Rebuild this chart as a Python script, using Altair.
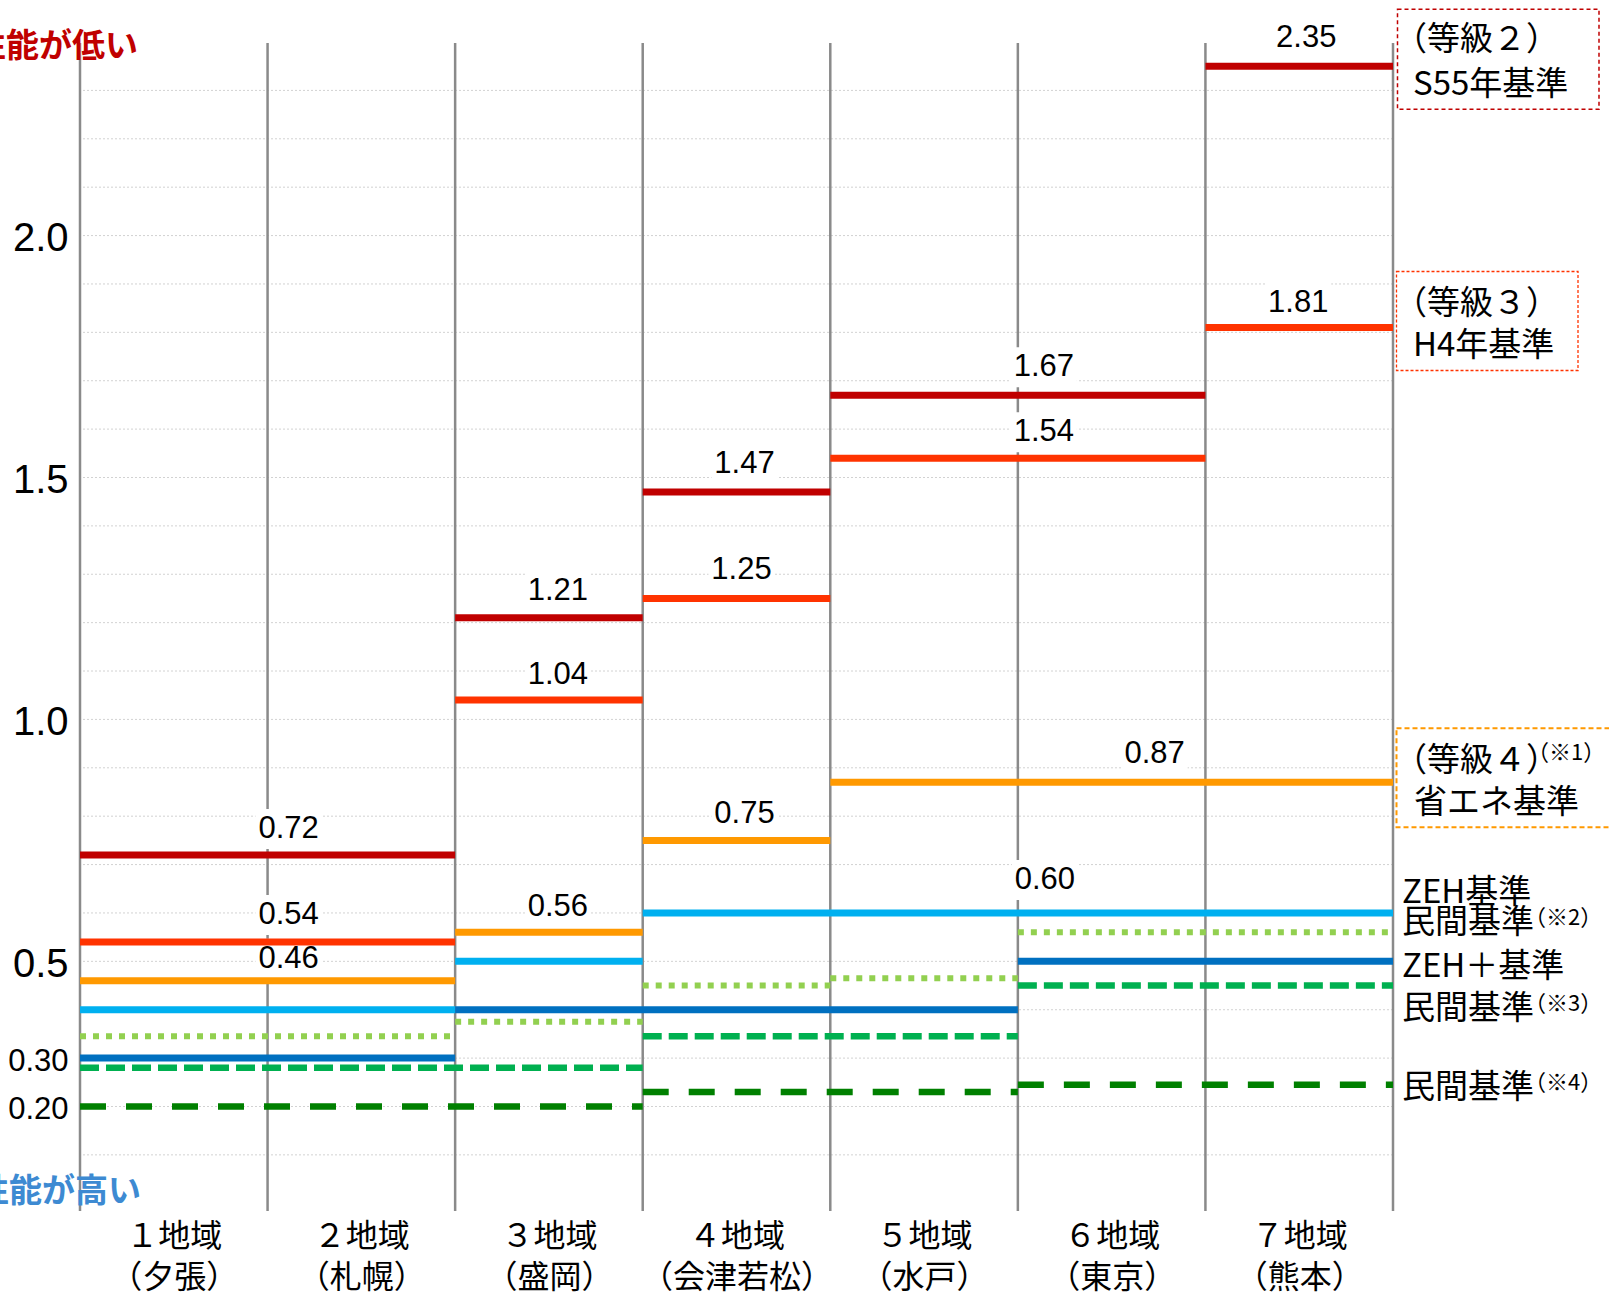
import altair as alt
import pandas as pd

# ---------------- data ----------------
regions = ["１地域", "２地域", "３地域", "４地域", "５地域", "６地域", "７地域"]
cities = ["（夕張）", "（札幌）", "（盛岡）", "（会津若松）", "（水戸）", "（東京）", "（熊本）"]

s55 = [0.72, 0.72, 1.21, 1.47, 1.67, 1.67, 2.35]        # (等級2) S55年基準
h4 = [0.54, 0.54, 1.04, 1.25, 1.54, 1.54, 1.81]         # (等級3) H4年基準
shoene = [0.46, 0.46, 0.56, 0.75, 0.87, 0.87, 0.87]     # (等級4) 省エネ基準
zeh = [0.40, 0.40, 0.50, 0.60, 0.60, 0.60, 0.60]        # ZEH基準
heat_g1 = [0.345, 0.345, 0.375, 0.45, 0.465, 0.56, 0.56]  # 民間基準(※2)
zeh_plus = [0.30, 0.30, 0.40, 0.40, 0.40, 0.50, 0.50]   # ZEH＋基準
heat_g2 = [0.28, 0.28, 0.28, 0.345, 0.345, 0.45, 0.45]  # 民間基準(※3)
heat_g3 = [0.20, 0.20, 0.20, 0.23, 0.23, 0.245, 0.245]  # 民間基準(※4)

y_ticks = [0.2, 0.3, 0.5, 1.0, 1.5, 2.0]
grid_values = [0.1, 0.2, 0.3, 0.4, 0.5, 0.6, 0.7, 0.8, 0.9, 1.0, 1.1, 1.2,
               1.3, 1.4, 1.5, 1.6, 1.7, 1.8, 1.9, 2.0, 2.1, 2.2, 2.3]

# ---------------- layout / style ----------------
W, H = 1313, 1168
PAD = {"left": 80, "top": 43, "right": 216, "bottom": 81}
Y_DOMAIN = [-0.016, 2.398]
NREG = len(regions)
PX_REGION = W / NREG
JP = "Noto Sans CJK JP"
NUM = "Liberation Sans"

# label placement per segment: (dx nudge px, dy px) or None
series = [
    dict(key="s55", vals=s55, color="#C00000", width=7, dash=None,
         labels=[(21, -26), (9, -27), (8, -28), (26, -28), (7, -28)]),
    dict(key="h4", vals=h4, color="#FF3300", width=7, dash=None,
         labels=[(21, -27), (9, -25), (5, -28), (26, -26), (-1, -25)]),
    dict(key="se", vals=shoene, color="#FF9900", width=7, dash=None,
         labels=[(21, -22), (9, -25), (8, -26), (43, -28)]),
    dict(key="zeh", vals=zeh, color="#00B0F0", width=7, dash=None,
         labels=[None, None, (27, -33)]),
    dict(key="g1", vals=heat_g1, color="#92D050", width=6, dash=[6, 7], labels=None),
    dict(key="zehp", vals=zeh_plus, color="#0070C0", width=7, dash=None, labels=None),
    dict(key="g2", vals=heat_g2, color="#00B050", width=6.5, dash=[19, 7], labels=None),
    dict(key="g3", vals=heat_g3, color="#008000", width=6.5, dash=[26, 20], labels=None),
]
last_val = {s["key"]: s["vals"][-1] for s in series}

boxes = [
    dict(key="s55", color="#C00000", dash=[4, 3], sw=1.5, left=4.5, right=206, top=-57, bottom=43,
         lines=[("（等級２）", 1, -26), ("S55年基準", 20, 19)], sup=None),
    dict(key="h4", color="#FF3300", dash=[3, 2], sw=1.3, left=3.5, right=185, top=-56, bottom=43,
         lines=[("（等級３）", 1, -24), ("H4年基準", 20, 18)], sup=None),
    dict(key="se", color="#FF9900", dash=[5, 3], sw=2, left=3.5, right=240, top=-54, bottom=45,
         lines=[("（等級４）", 1, -21), ("省エネ基準", 21, 21)], sup=("（※1）", 134, -29)),
]

side_labels = [
    ("zeh", "ZEH基準", -20, None),
    ("g1", "民間基準", -9, "（※2）"),
    ("zehp", "ZEH＋基準", 6, None),
    ("g2", "民間基準", 23, "（※3）"),
    ("g3", "民間基準", 3, "（※4）"),
]

# ---------------- scales / axes ----------------
xscale = alt.Scale(domain=[0, NREG], nice=False, zero=False)
yscale = alt.Scale(domain=Y_DOMAIN, nice=False, zero=False)

label_arrays = ",".join("['%s','%s']" % (r, c) for r, c in zip(regions, cities))
xaxis = alt.Axis(
    values=[i + 0.5 for i in range(NREG)],
    labelExpr="[%s][floor(datum.value)]" % label_arrays,
    labelFont=JP, labelFontSize=32, labelLineHeight=41, labelColor="black",
    labelPadding=10, labelAngle=0, labelOverlap=False, labelFlush=False, labelLimit=0,
    domain=False, ticks=False, grid=False, title=None,
)
yaxis = alt.Axis(
    values=y_ticks,
    labelExpr="datum.value < 0.45 ? format(datum.value, '.2f') : format(datum.value, '.1f')",
    labelFontSize={"condition": {"test": "datum.value < 0.45", "value": 31}, "value": 40},
    labelFont=NUM, labelColor="black", labelPadding=12, labelOffset=3,
    domain=False, ticks=False, grid=False, title=None,
)


def X(field):
    return alt.X(field + ":Q", scale=xscale, axis=xaxis)


def Y(field):
    return alt.Y(field + ":Q", scale=yscale, axis=yaxis)


def segments(vals):
    segs, start = [], 0
    for i in range(1, len(vals) + 1):
        if i == len(vals) or vals[i] != vals[start]:
            segs.append((start, i, vals[start]))
            start = i
    return segs


layers = []

# grid
layers.append(
    alt.Chart(pd.DataFrame({"v": grid_values}))
    .mark_rule(color="#d2d2d2", strokeWidth=1, strokeDash=[2, 2])
    .encode(y=Y("v"))
)
# region boundaries
layers.append(
    alt.Chart(pd.DataFrame({"x0": list(range(NREG + 1))}))
    .mark_rule(color="#8a8a8a", strokeWidth=2.5)
    .encode(x=X("x0"))
)

# value labels data
lab_rows = []
for s in series:
    if not s["labels"]:
        continue
    for idx, (a, b, v) in enumerate(segments(s["vals"])):
        spec = s["labels"][idx]
        if spec is None:
            continue
        nx, dy = spec
        lab_rows.append({"xl": (a + b) / 2 + nx / PX_REGION, "v": v, "t": f"{v:.2f}", "dy": dy})
lab_df = pd.DataFrame(lab_rows)

BOX_W, BOX_H = 66, 40
sc = BOX_W / 2
dys = sorted(set(lab_df["dy"]))

# white backgrounds behind labels
for dy in dys:
    y_top = (dy - BOX_H / 2) / sc
    y_bot = (dy + BOX_H / 2) / sc
    box_path = f"M-1,{y_top:.4f}L1,{y_top:.4f}L1,{y_bot:.4f}L-1,{y_bot:.4f}Z"
    layers.append(
        alt.Chart(lab_df[lab_df["dy"] == dy])
        .mark_point(shape=box_path, size=BOX_W * BOX_W, filled=True, color="white", opacity=1, strokeWidth=0)
        .encode(x=X("xl"), y=Y("v"))
    )

# series lines
for s in series:
    df = pd.DataFrame([{"x0": a, "x1": b, "v": v} for a, b, v in segments(s["vals"])])
    kw = dict(color=s["color"], strokeWidth=s["width"], strokeCap="butt")
    if s["dash"]:
        kw["strokeDash"] = s["dash"]
    layers.append(alt.Chart(df).mark_rule(**kw).encode(x=X("x0"), x2="x1", y=Y("v")))

# value labels
for dy in dys:
    layers.append(
        alt.Chart(lab_df[lab_df["dy"] == dy])
        .mark_text(font=NUM, fontSize=31, color="black", dy=dy, baseline="middle", align="center")
        .encode(x=X("xl"), y=Y("v"), text="t:N")
    )

# right boxes
for bx in boxes:
    df = pd.DataFrame({"xr": [NREG], "v": [last_val[bx["key"]]]})
    layers.append(
        alt.Chart(df)
        .mark_rect(fill="white", fillOpacity=0, stroke=bx["color"], strokeWidth=bx["sw"],
                   strokeDash=bx["dash"], xOffset=bx["left"], x2Offset=bx["right"],
                   yOffset=bx["top"], y2Offset=bx["bottom"])
        .encode(x=X("xr"), x2="xr", y=Y("v"), y2="v")
    )
    for text, dx, dy in bx["lines"]:
        layers.append(
            alt.Chart(df.assign(t=text))
            .mark_text(font=JP, fontSize=33, color="black", align="left", baseline="middle", dx=dx, dy=dy)
            .encode(x=X("xr"), y=Y("v"), text="t:N")
        )
    if bx["sup"]:
        text, dx, dy = bx["sup"]
        layers.append(
            alt.Chart(df.assign(t=text))
            .mark_text(font=JP, fontSize=22, color="black", align="left", baseline="middle", dx=dx, dy=dy)
            .encode(x=X("xr"), y=Y("v"), text="t:N")
        )

# right side labels
for key, text, dy, sup in side_labels:
    df = pd.DataFrame({"xr": [NREG], "v": [last_val[key]], "t": [text]})
    layers.append(
        alt.Chart(df)
        .mark_text(font=JP, fontSize=33, color="black", align="left", baseline="middle", dx=9, dy=dy)
        .encode(x=X("xr"), y=Y("v"), text="t:N")
    )
    if sup:
        layers.append(
            alt.Chart(df.assign(t=sup))
            .mark_text(font=JP, fontSize=22, color="black", align="left", baseline="middle", dx=131, dy=dy - 5)
            .encode(x=X("xr"), y=Y("v"), text="t:N")
        )

# performance direction notes
note_df = pd.DataFrame({"t": ["性能が低い"]})
layers.append(
    alt.Chart(note_df)
    .mark_text(font=JP, fontSize=33, fontWeight="bold", color="#C00000", align="right",
               baseline="middle", dx=58, dy=4)
    .encode(x=alt.value(0), y=alt.value(0), text="t:N")
)
note_df2 = pd.DataFrame({"t": ["性能が高い"]})
layers.append(
    alt.Chart(note_df2)
    .mark_text(font=JP, fontSize=33, fontWeight="bold", color="#3D8AD2", align="right",
               baseline="middle", dx=61, dy=-19)
    .encode(x=alt.value(0), y=alt.value(H), text="t:N")
)

chart = (
    alt.layer(*layers)
    .properties(width=W, height=H, padding=PAD, autosize=alt.AutoSizeParams(type="none"),
                background="white")
    .configure_view(strokeWidth=0)
)

chart.save("out.html", embed_options={"renderer": "svg", "actions": False})
